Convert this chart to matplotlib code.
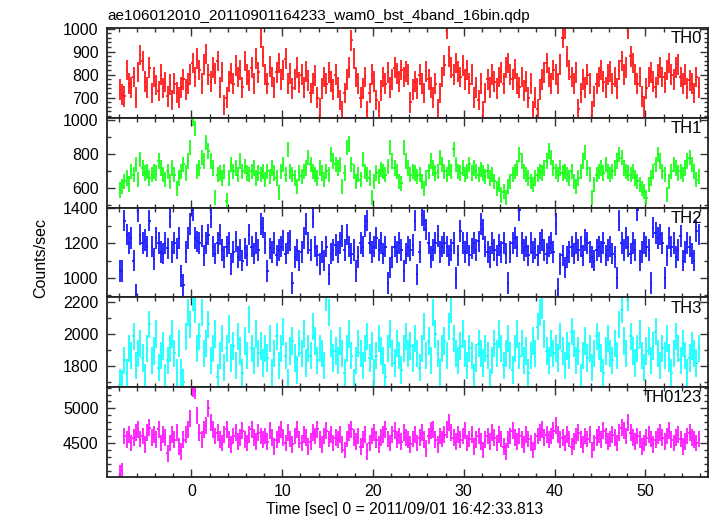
import numpy as np
import matplotlib
matplotlib.use("Agg")
import matplotlib.pyplot as plt
from matplotlib.ticker import MultipleLocator

plt.rcParams['font.family'] = ['Liberation Sans', 'DejaVu Sans']

# ---- data (0.25 s bins) ----
t_start = -7.875
bin_width = 0.25

th0 = [735, 712, 705, 820, 760, 745, 790, 700, 812, 885, 860, 770, 745, 830, 720, 790, 755, 728, 800, 742, 768, 705, 756, 690, 760, 722, 700, 745, 780, 735, 760, 800,
       850, 790, 870, 820, 760, 845, 890, 800, 770, 830, 805, 860, 745, 812, 668, 700, 770, 805, 760, 840, 790, 820, 745, 860, 800, 775, 830, 760, 870, 810, 960, 880,
       800, 760, 835, 790, 745, 810, 850, 780, 820, 870, 760, 805, 740, 780, 830, 765, 800, 745, 815, 775, 720, 760, 795, 700, 655, 740, 790, 760, 810, 770, 735, 800,
       745, 690, 640, 720, 780, 830, 950, 870, 790, 760, 700, 740, 790, 640, 720, 800, 770, 690, 640, 730, 790, 760, 810, 745, 780, 830, 805, 770, 820, 790, 815, 800,
       680, 735, 770, 740, 800, 760, 720, 815, 780, 745, 700, 760, 650, 720, 790, 840, 1000, 880, 830, 800, 850, 815, 790, 840, 780, 820, 760, 800, 700, 745, 690, 760,
       640, 720, 780, 745, 800, 770, 740, 790, 810, 760, 830, 850, 800, 780, 825, 760, 745, 790, 730, 770, 700, 760, 640, 700, 650, 735, 780, 810, 850, 790, 760, 820,
       800, 760, 845, 960, 1000, 880, 820, 790, 760, 810, 650, 720, 780, 745, 800, 760, 640, 705, 760, 790, 820, 770, 745, 800, 815, 760, 790, 740, 820, 860, 800, 830,
       1000, 880, 850, 800, 760, 790, 705, 660, 740, 790, 810, 770, 745, 800, 830, 790, 765, 820, 850, 800, 780, 830, 845, 790, 760, 800, 740, 775, 760, 720, 790, 745]

th1 = [590, 610, 640, 660, 625, 700, 680, 740, 650, 770, 720, 690, 700, 660, 680, 700, 690, 760, 720, 680, 650, 700, 640, 720, 680, 600, 660, 700, 740, 690, 760, 840,
       1010, 950, 700, 720, 780, 760, 870, 820, 760, 720, 545, 680, 690, 660, 700, 525, 660, 740, 700, 720, 680, 760, 700, 730, 690, 680, 700, 720, 660, 690, 680, 700,
       650, 700, 670, 720, 690, 660, 575, 700, 740, 680, 830, 700, 680, 660, 610, 690, 670, 700, 720, 780, 740, 700, 680, 660, 720, 690, 650, 700, 680, 800, 760, 740,
       720, 740, 610, 690, 840, 860, 740, 700, 640, 680, 650, 770, 700, 680, 660, 545, 640, 690, 670, 710, 700, 680, 730, 840, 760, 720, 700, 640, 630, 840, 760, 720,
       680, 700, 690, 670, 680, 640, 600, 660, 700, 760, 720, 690, 700, 780, 740, 700, 680, 720, 700, 830, 740, 700, 690, 720, 680, 700, 740, 690, 720, 700, 680, 710,
       690, 670, 700, 660, 680, 640, 600, 620, 560, 580, 545, 610, 640, 680, 700, 720, 800, 760, 700, 680, 660, 640, 620, 660, 680, 700, 690, 720, 760, 820, 780, 720,
       700, 680, 720, 690, 700, 680, 660, 700, 640, 610, 660, 700, 760, 810, 720, 680, 545, 620, 680, 700, 720, 690, 740, 700, 680, 700, 720, 760, 800, 780, 720, 700,
       690, 680, 700, 660, 640, 620, 600, 580, 545, 620, 660, 700, 740, 800, 760, 700, 680, 565, 640, 700, 740, 720, 690, 700, 680, 720, 760, 780, 740, 700, 650, 670]

th2 = [1040, 1040, 1330, 1250, 1200, 1230, 1100, 905, 1385, 1250, 1200, 1220, 1180, 1330, 1180, 1110, 1230, 1200, 1150, 1140, 1200, 1170, 1350, 1150, 1200, 1170, 1230, 1010, 960, 1150, 1230, 1310,
       1390, 1230, 1210, 1200, 1240, 1130, 1200, 1250, 1350, 1180, 1140, 1200, 1250, 1160, 1120, 1180, 1200, 1080, 1150, 1210, 1120, 1160, 1100, 1170, 1130, 1250, 1180, 1140, 1200, 1160, 1310, 1290,
       1200, 1040, 1170, 1150, 1200, 1130, 1160, 1180, 1215, 1140, 1200, 1215, 970, 1120, 1160, 1100, 1150, 1230, 1310, 1200, 1160, 1350, 1180, 1130, 1080, 1150, 1100, 1180, 1020, 1140, 1160, 1190,
       1150, 1200, 1240, 1160, 1250, 1180, 1140, 1160, 1040, 1120, 1200, 1180, 1300, 1330, 1200, 1150, 1180, 1230, 1160, 1200, 1140, 1180, 970, 1060, 1120, 1180, 1150, 1200, 1160, 1040, 1140, 1180,
       1160, 1190, 1330, 1020, 1150, 1360, 1330, 1280, 1200, 1120, 1160, 1200, 1240, 1150, 1180, 1200, 1180, 1130, 1160, 1200, 1000, 1130, 1270, 1200, 1150, 1200, 1130, 1170, 1200, 1160, 1210, 1310,
       1280, 1180, 1150, 1120, 1200, 1160, 1130, 1190, 1150, 1200, 1140, 970, 1150, 1200, 1230, 1180, 1390, 1200, 1160, 1180, 1130, 1200, 1150, 1170, 1130, 1200, 1220, 1160, 1140, 1180, 1200, 1150,
       1310, 935, 1080, 1130, 1060, 1120, 1150, 1180, 1140, 1200, 1160, 1180, 1130, 1220, 1200, 1150, 1120, 1100, 1160, 1180, 1150, 1200, 1130, 1160, 1180, 1140, 1120, 1000, 1330, 1200, 1160, 1230,
       1180, 1140, 1200, 1160, 1390, 1100, 1150, 1200, 1180, 1160, 970, 1290, 1260, 1230, 1250, 1200, 1000, 1130, 1230, 1180, 1200, 1120, 1160, 1240, 1100, 1150, 1200, 1180, 1140, 1100, 1270, 1250]

th3 = [1700, 1690, 1835, 1760, 1910, 1865, 1985, 1805, 1880, 1940, 1850, 1730, 1910, 2060, 1835, 1895, 2000, 1790, 1865, 1925, 1730, 1835, 1910, 2000, 1880, 1760, 1940, 1760, 1700, 1985, 2135, 2060,
       2230, 2150, 1910, 1985, 2135, 1880, 1940, 2060, 1835, 1910, 2000, 1730, 1865, 1970, 1790, 1910, 2030, 1850, 1925, 1805, 1985, 1895, 1760, 1955, 1865, 2090, 1910, 1835, 2000, 1880, 1925, 1820,
       1910, 1850, 1970, 1760, 1880, 1985, 1805, 1910, 2015, 1865, 1700, 1895, 1955, 1850, 1775, 1940, 1880, 2000, 1820, 1910, 1865, 2045, 1955, 1835, 1910, 1880, 1805, 2230, 2135, 1940, 1850, 1895,
       1835, 1955, 1880, 1760, 1910, 2000, 1865, 1700, 1835, 1940, 1880, 1805, 1910, 1985, 1850, 1925, 1760, 1865, 1970, 1895, 1835, 1730, 1910, 2000, 1880, 1820, 1940, 1865, 1775, 1910, 1985, 1880,
       1925, 1850, 1970, 1880, 1790, 1910, 2045, 1865, 1955, 1835, 2135, 2000, 1880, 1760, 1910, 1955, 1865, 2045, 2150, 1970, 1880, 1835, 1925, 2000, 1880, 1805, 1910, 1865, 1730, 1850, 1940, 1880,
       1820, 1910, 1865, 1700, 1835, 1940, 1880, 2000, 1910, 1805, 1880, 1970, 1865, 1775, 1910, 2000, 1865, 1940, 1835, 1895, 1760, 1865, 1955, 1880, 2045, 2135, 2180, 2000, 1895, 1835, 1940, 1880,
       1910, 1850, 1985, 1895, 1805, 1925, 1865, 2015, 1940, 1835, 1895, 1730, 1865, 1955, 1850, 1910, 1790, 1880, 1985, 1925, 1850, 1760, 1895, 1970, 1880, 1835, 1940, 1865, 2060, 2150, 1955, 1880,
       2225, 1985, 1895, 1820, 1910, 2000, 1865, 1790, 1895, 1955, 1835, 1925, 2015, 1880, 1805, 1910, 1865, 1970, 1850, 1760, 1880, 1985, 1910, 1835, 1940, 1865, 1760, 1850, 1925, 1880, 1820, 1910]

th0123 = [4060, 4090, 4600, 4550, 4620, 4500, 4580, 4650, 4700, 4560, 4600, 4480, 4650, 4720, 4580, 4620, 4550, 4700, 4500, 4620, 4580, 4350, 4500, 4620, 4550, 4650, 4450, 4380, 4550, 4620, 4700, 4850,
          5290, 5250, 4900, 4650, 4550, 4700, 4750, 5000, 4800, 4700, 4600, 4650, 4550, 4500, 4620, 4700, 4550, 4480, 4600, 4650, 4520, 4580, 4680, 4550, 4500, 4620, 4700, 4580, 4520, 4650, 4600, 4550,
          4600, 4520, 4680, 4580, 4450, 4550, 4620, 4700, 4580, 4500, 4650, 4560, 4480, 4600, 4700, 4550, 4500, 4620, 4580, 4450, 4520, 4650, 4600, 4700, 4550, 4480, 4600, 4680, 4560, 4620, 4500, 4580,
          4550, 4620, 4480, 4400, 4560, 4650, 4700, 4580, 4520, 4600, 4450, 4550, 4620, 4380, 4500, 4600, 4650, 4550, 4480, 4580, 4620, 4700, 4560, 4500, 4620, 4680, 4550, 4600, 4520, 4650, 4580, 4550,
          4480, 4560, 4620, 4500, 4580, 4650, 4550, 4420, 4600, 4680, 4700, 4550, 4480, 4600, 4560, 4620, 4700, 4800, 4650, 4580, 4520, 4620, 4550, 4600, 4680, 4500, 4560, 4620, 4450, 4550, 4600, 4520,
          4400, 4550, 4600, 4520, 4650, 4580, 4500, 4620, 4560, 4450, 4380, 4550, 4600, 4680, 4580, 4520, 4600, 4550, 4480, 4620, 4560, 4500, 4400, 4520, 4600, 4650, 4700, 4580, 4620, 4550, 4600, 4680,
          4750, 4620, 4550, 4580, 4500, 4620, 4560, 4450, 4520, 4600, 4650, 4550, 4480, 4600, 4560, 4620, 4400, 4500, 4580, 4620, 4550, 4680, 4600, 4520, 4560, 4620, 4580, 4500, 4650, 4720, 4680, 4600,
          4800, 4650, 4580, 4520, 4600, 4550, 4450, 4500, 4580, 4620, 4560, 4480, 4550, 4600, 4650, 4580, 4520, 4600, 4680, 4550, 4500, 4580, 4620, 4560, 4450, 4520, 4600, 4650, 4580, 4550, 4500, 4560]

names = ["TH0", "TH1", "TH2", "TH3", "TH0123"]
series = [th0, th1, th2, th3, th0123]
errors = [45, 45, 62, 85, 120]
colors = ["#ff1a1a", "#1aff1a", "#1a1aff", "#1affff", "#ff1aff"]
ylims = [(612, 1003), (486, 1015), (888, 1405), (1669, 2227), (4010, 5306)]
ymajor = [100, 200, 200, 200, 500]
yminor = [20, 100, 100, 100, 100]

title = "ae106012010_20110901164233_wam0_bst_4band_16bin.qdp"
xlabel = "Time [sec] 0 = 2011/09/01 16:42:33.813"
ylabel = "Counts/sec"

W, H = 717, 516
fig = plt.figure(figsize=(W / 100, H / 100), dpi=100)
left, right = 107 / W, 708 / W
top_px, bot_px = 28, 477
ph = (bot_px - top_px) / 5

axes = []
for i in range(5):
    y0 = 1 - (top_px + ph * (i + 1)) / H
    ax = fig.add_axes([left, y0, right - left, ph / H])
    axes.append(ax)
    v = np.asarray(series[i], dtype=float)
    t = t_start + bin_width * np.arange(len(v))
    ax.errorbar(t, v, xerr=bin_width / 2, yerr=errors[i], fmt='none',
                ecolor=colors[i], elinewidth=1.3, capsize=0)
    ax.set_xlim(-9.3, 56.9)
    ax.set_ylim(*ylims[i])
    ax.xaxis.set_major_locator(MultipleLocator(10))
    ax.xaxis.set_minor_locator(MultipleLocator(2))
    ax.yaxis.set_major_locator(MultipleLocator(ymajor[i]))
    ax.yaxis.set_minor_locator(MultipleLocator(yminor[i]))
    ax.tick_params(which='both', direction='in', top=True, right=True,
                   labelsize=11.5, width=1.0, color='#333333')
    ax.tick_params(which='major', length=6)
    ax.tick_params(which='minor', length=3)
    ax.tick_params(axis='y', pad=6)
    for s in ax.spines.values():
        s.set_linewidth(1.3)
        s.set_color('#222222')
    if i < 4:
        ax.tick_params(labelbottom=False)
    else:
        ax.tick_params(axis='x', pad=5)
    ax.text(0.99, 0.88, names[i], transform=ax.transAxes, ha='right', va='center',
            fontsize=12)

fig.text(left, 1 - 16 / H, title, ha='left', va='center', fontsize=11.0)
fig.text(41 / W, 1 - 258 / H, ylabel, rotation=90, ha='center', va='center', fontsize=11.5)
fig.text(405 / W, 1 - 509.5 / H, xlabel, ha='center', va='center', fontsize=11.3)

fig.savefig("out.png", dpi=100)
